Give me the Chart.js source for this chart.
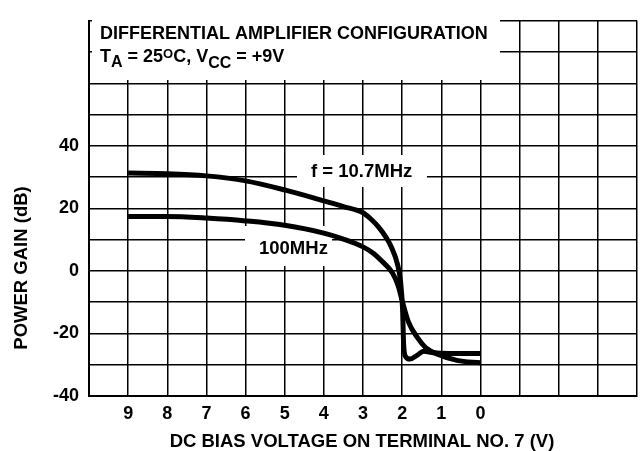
<!DOCTYPE html>
<html lang="en">
<head>
  <meta charset="UTF-8">
  <title>Power Gain vs DC Bias Voltage</title>
  <script src="https://cdn.jsdelivr.net/npm/chart.js"></script>
  <style>
    body { margin: 0; background: #fff; }
    #wrap { width: 644px; height: 451px; position: relative; }
  </style>
</head>
<body>
  <div id="wrap"><canvas id="gainChart"></canvas></div>

  <script>
    // bias voltage on terminal 7 (V) vs power gain (dB)
    const biasHF = [9, 8, 7, 6, 5, 4, 3.5, 3, 2.8, 2.6, 2.4, 2.27, 2.12, 2.04, 1.99, 1.96, 1.9, 1.8, 1.62, 1.45, 1.2, 0.8, 0.4, 0];
    const gainHF = [31.3, 31.1, 30.4, 28.8, 25.9, 22.4, 20.6, 18.6, 16.6, 14.0, 10.5, 7.5, 2.2, -3.5, -12, -24, -27.6, -28.2, -27, -25.7, -26.2, -26.4, -26.4, -26.4];

    const biasVHF = [9, 8, 7, 6, 5, 4, 3.5, 3, 2.73, 2.5, 2.25, 2.1, 2.0, 1.84, 1.6, 1.4, 1.08, 0.6, 0];
    const gainVHF = [17.4, 17.4, 16.9, 16.0, 14.6, 12.1, 10.2, 7.7, 5.6, 2.9, -0.6, -4.8, -9.5, -16.3, -21.5, -24.5, -26.7, -28.6, -29.4];

    const seriesNames = ['f = 10.7MHz', '100MHz'];
    const xTickLabels = [9, 8, 7, 6, 5, 4, 3, 2, 1, 0];
    const yTickLabels = [-40, -20, 0, 20, 40];

    const FONT = '"Liberation Sans", Arial, Helvetica, sans-serif';
    Chart.defaults.font.family = FONT;
    Chart.defaults.color = '#000';

    function toPoints(xs, ys) {
      return xs.map((x, i) => ({ x: x, y: ys[i] }));
    }

    // white label boxes, labels and axis titles
    const notes = {
      id: 'notes',
      beforeDatasetsDraw(chart) {
        const ctx = chart.ctx;
        ctx.save();
        ctx.fillStyle = '#fff';
        ctx.fillRect(92, 15, 408, 65);
        ctx.fillRect(297, 155, 130, 32);
        ctx.fillRect(245, 226, 87, 40);

        ctx.fillStyle = '#000';
        ctx.textBaseline = 'alphabetic';
        ctx.textAlign = 'left';
        ctx.font = 'bold 18px ' + FONT;
        ctx.fillText('DIFFERENTIAL AMPLIFIER CONFIGURATION', 100, 39);

        // T_A = 25^OC, V_CC = +9V
        const parts = [
          ['T', 18, 0], ['A', 16, 5], [' = 25', 18, 0], ['O', 13, -4],
          ['C, V', 18, 0], ['CC', 16, 6], [' = +9V', 18, 0]
        ];
        let x = 100;
        parts.forEach(p => {
          ctx.font = 'bold ' + p[1] + 'px ' + FONT;
          ctx.fillText(p[0], x, 62 + p[2]);
          x += ctx.measureText(p[0]).width;
        });

        ctx.font = 'bold 18.5px ' + FONT;
        ctx.fillText(seriesNames[0], 311, 177);
        ctx.fillText(seriesNames[1], 259, 254);
        ctx.restore();
      },
      afterDraw(chart) {
        const ctx = chart.ctx;
        ctx.save();
        ctx.fillStyle = '#000';
        ctx.font = 'bold 18.5px ' + FONT;
        ctx.textAlign = 'center';
        ctx.textBaseline = 'middle';
        ctx.fillText('DC BIAS VOLTAGE ON TERMINAL NO. 7 (V)', 362, 442);
        ctx.translate(22, 268);
        ctx.rotate(-Math.PI / 2);
        ctx.fillText('POWER GAIN (dB)', 0, 0);
        ctx.restore();
      }
    };

    const ctx = document.getElementById('gainChart').getContext('2d');
    new Chart(ctx, {
      type: 'line',
      data: {
        datasets: [{
          label: seriesNames[0],
          data: toPoints(biasHF, gainHF),
          borderColor: '#000',
          borderWidth: 5,
          pointRadius: 0,
          cubicInterpolationMode: 'monotone'
        }, {
          label: seriesNames[1],
          data: toPoints(biasVHF, gainVHF),
          borderColor: '#000',
          borderWidth: 5,
          pointRadius: 0,
          cubicInterpolationMode: 'monotone'
        }]
      },
      options: {
        responsive: true,
        maintainAspectRatio: false,
        animation: false,
        layout: { padding: { top: 10, right: 7, left: 0, bottom: 0 } },
        plugins: {
          legend: { display: false },
          tooltip: { enabled: false }
        },
        scales: {
          x: {
            type: 'linear',
            reverse: true,
            min: -4,
            max: 10,
            afterFit: s => { s.height = 55; },
            grid: { color: '#000', lineWidth: 1.5, drawTicks: false },
            border: { color: '#000', width: 2 },
            ticks: {
              stepSize: 1,
              padding: 7,
              autoSkip: false,
              maxRotation: 0,
              font: { size: 18, weight: 'bold' },
              callback: v => xTickLabels.includes(v) ? String(v) : ''
            }
          },
          y: {
            min: -40,
            max: 80,
            afterFit: s => { s.width = 89; },
            grid: { color: '#000', lineWidth: 1.5, drawTicks: false },
            border: { color: '#000', width: 2 },
            ticks: {
              stepSize: 10,
              padding: 10,
              autoSkip: false,
              font: { size: 18, weight: 'bold' },
              callback: v => yTickLabels.includes(v) ? String(v) : ''
            }
          }
        }
      },
      plugins: [notes]
    });
  </script>
</body>
</html>
